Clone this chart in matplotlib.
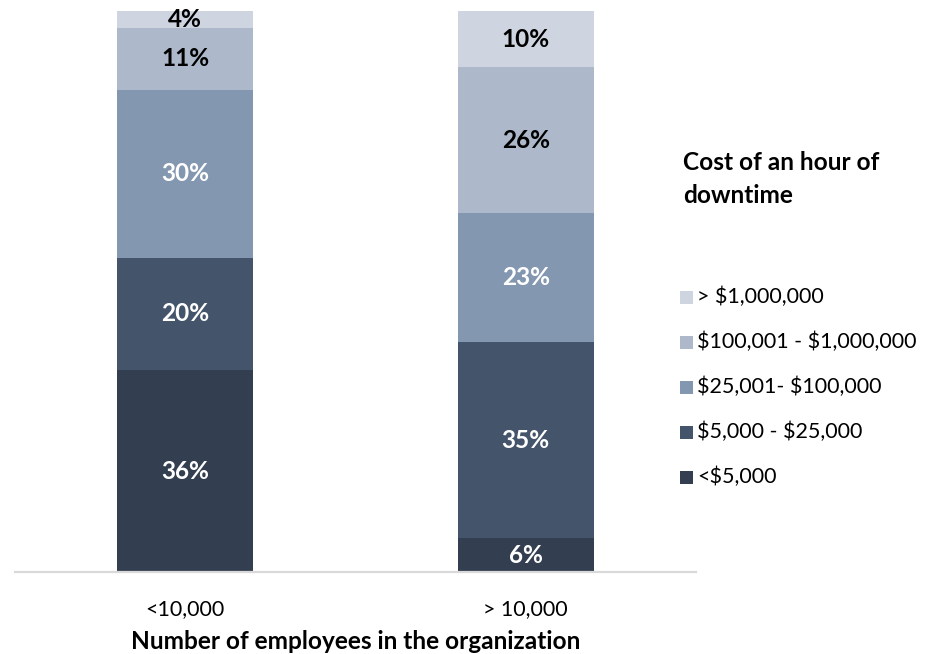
import matplotlib
matplotlib.use("Agg")
import matplotlib.pyplot as plt
from matplotlib.patches import Rectangle

plt.rcParams['font.family'] = ['Lato', 'DejaVu Sans']

groups = ["<10,000", "> 10,000"]
cost_bands = ["<$5,000", "$5,000 - $25,000", "$25,001- $100,000",
              "$100,001 - $1,000,000", "> $1,000,000"]
small_org = [36, 20, 30, 11, 4]
large_org = [6, 35, 23, 26, 10]

colors = ["#333F50", "#44546A", "#8497B0", "#ADB9CA", "#CFD5E0"]
label_colors = ["white", "white", "white", "black", "black"]

W, H = 930, 654
fig = plt.figure(figsize=(W / 100, H / 100), dpi=100)
renderer = fig.canvas.get_renderer()


def fx(px):
    return px / W


def fy(py):
    return 1 - py / H


def fitted_size(text, target_px):
    """Font size that makes a text span target_px pixels."""
    width = text.get_window_extent(renderer).width
    return text.get_fontsize() * target_px / width


# Font sizes: regular text sized from the longest legend entry,
# bold text sized from the axis title.
probe = fig.text(0, 0, "\\$100,001 - \\$1,000,000", fontsize=12)
regular_size = fitted_size(probe, 220)
probe.remove()
probe = fig.text(0, 0, "Number of employees in the organization",
                 fontsize=12, fontweight="bold")
bold_size = fitted_size(probe, 447)
probe.remove()

ax = fig.add_axes([fx(15), fy(572), fx(681), 561 / H])

x = list(range(len(groups)))
ymax = 100
bottoms = [0.0] * len(groups)
series = [[small_org[i], large_org[i]] for i in range(len(cost_bands))]
for i, band in enumerate(cost_bands):
    vals = series[i]
    ax.bar(x, vals, width=0.4, bottom=bottoms, color=colors[i],
           edgecolor="none", label=band)
    for xi, v, b in zip(x, vals, bottoms):
        top = min(b + v, ymax)
        ax.text(xi, (b + top) / 2, f"{v}%", ha="center", va="center",
                fontsize=bold_size, fontweight="bold",
                color=label_colors[i])
    bottoms = [b + v for b, v in zip(bottoms, vals)]

ax.set_xlim(-0.5, 1.5)
ax.set_ylim(0, ymax)
ax.set_yticks([])
ax.set_xticks(x)
ax.set_xticklabels(groups, fontsize=regular_size)
for t in ax.get_xticklabels():
    t.set_va("baseline")
ax.tick_params(axis="x", length=0, pad=31)
for side in ["top", "left", "right"]:
    ax.spines[side].set_visible(False)
ax.spines["bottom"].set_color("#D9D9D9")
ax.spines["bottom"].set_linewidth(1.6)

ax.set_xlabel("Number of employees in the organization",
              fontsize=bold_size, fontweight="bold", va="baseline")
ax.xaxis.set_label_coords(0.5, -(649 - 572) / 561)

# Legend: title block followed by swatches, lightest band on top
fig.text(fx(683), fy(179), "Cost of an hour of\ndowntime",
         fontsize=bold_size, fontweight="bold", ha="left", va="center",
         linespacing=1.48)

sw = 13
for k, i in enumerate(reversed(range(len(cost_bands)))):
    yc = 297 + 45 * k
    fig.add_artist(Rectangle((fx(680), fy(yc + sw / 2)), sw / W, sw / H,
                             transform=fig.transFigure,
                             facecolor=colors[i], edgecolor="none"))
    fig.text(fx(697), fy(yc), cost_bands[i].replace("$", "\\$"),
             fontsize=regular_size, ha="left", va="center")

fig.savefig("out.png", dpi=100)
